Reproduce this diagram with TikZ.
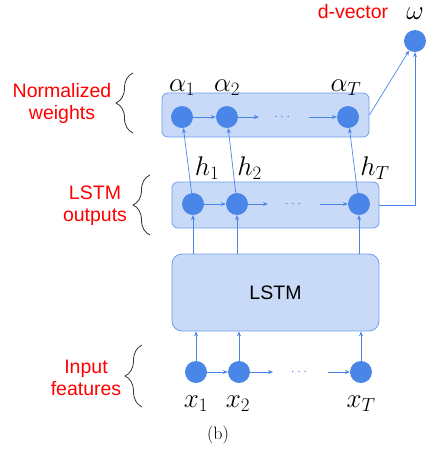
\documentclass[tikz,border=0pt]{standalone}
\usepackage{fix-cm}
\usepackage{fontspec}
\newfontfamily\arialfont{Liberation Sans}
\usetikzlibrary{arrows.meta,decorations.pathreplacing}
\definecolor{boxfill}{HTML}{C9DAF8}
\definecolor{boxline}{HTML}{6D9EEB}
\definecolor{dotblue}{HTML}{4A86E8}
\definecolor{arrblue}{HTML}{4A86E8}
\begin{document}
\begin{tikzpicture}[x=1pt,y=-1pt,
  box/.style={draw=boxline, fill=boxfill, rounded corners=6pt, line width=0.8pt, inner sep=0pt},
  dot/.style={circle, fill=dotblue, minimum size=22pt, inner sep=0pt},
  arr/.style={draw=arrblue, line width=0.7pt, -{Stealth[length=5pt,width=4pt]}},
  lbl/.style={text=red, font=\arialfont\fontsize{19.5}{22}\selectfont, align=center, inner sep=0pt},
  mlbl/.style={font=\fontsize{27}{30}\selectfont, anchor=base, inner sep=0pt},
  ell/.style={text=dotblue, font=\fontsize{14}{16}\selectfont, inner sep=0pt},
  brc/.style={draw=black!80, decorate, decoration={brace, amplitude=17pt}, line width=0.8pt}]
\useasboundingbox (0,0) rectangle (433,451);

% boxes
\node[box, minimum width=207pt, minimum height=44pt] (abox) at (265.5,115) {};
\node[box, minimum width=207pt, minimum height=46pt] (hbox) at (275.5,205) {};
\node[box, rounded corners=10pt, minimum width=207pt, minimum height=77pt,
      font=\arialfont\fontsize{19.5}{22}\selectfont] (lstm) at (275.5,292.5) {LSTM};

% circles
\node[dot] (a1) at (182,117) {};
\node[dot] (a2) at (227,117) {};
\node[dot] (aT) at (348,117) {};
\node[dot] (h1) at (193,204) {};
\node[dot] (h2) at (237,204) {};
\node[dot] (hT) at (359,204) {};
\node[dot] (x1) at (196,372) {};
\node[dot] (x2) at (239,372) {};
\node[dot] (xT) at (361,372) {};
\node[dot] (w) at (415,41) {};

% ellipses
\node[ell] (ad) at (282,117) {$\cdots$};
\node[ell] (hd) at (293,204) {$\cdots$};
\node[ell] (xd) at (299,372) {$\cdots$};
\coordinate (ae) at (259,117);
\coordinate (as) at (309,117);
\coordinate (he) at (268,204);
\coordinate (hs) at (320,204);
\coordinate (xe) at (273,372);
\coordinate (xs) at (328,372);

% horizontal arrows
\draw[arr] (a1) -- (a2);
\draw[arr] (a2) -- (ae);
\draw[arr] (as) -- (aT);
\draw[arr] (h1) -- (h2);
\draw[arr] (h2) -- (he);
\draw[arr] (hs) -- (hT);
\draw[arr] (x1) -- (x2);
\draw[arr] (x2) -- (xe);
\draw[arr] (xs) -- (xT);

% vertical arrows
\draw[arr] (x1) -- (lstm.south -| x1);
\draw[arr] (x2) -- (lstm.south -| x2);
\draw[arr] (xT) -- (lstm.south -| xT);
\draw[arr] (lstm.north -| h1) -- (h1);
\draw[arr] (lstm.north -| h2) -- (h2);
\draw[arr] (lstm.north -| hT) -- (hT);
\draw[arr] (h1) -- (a1);
\draw[arr] (h2) -- (a2);
\draw[arr] (hT) -- (aT);

% to omega
\draw[arr] (abox.east) -- (w);
\draw[arr] (hbox.east) -| (w);

% math labels
\node[mlbl] (la1) at (182,91) {$\alpha_1$};
\node[mlbl] (la2) at (227,91) {$\alpha_2$};
\node[mlbl] (laT) at (346,91) {$\alpha_T$};
\node[mlbl] (lh1) at (207,175) {$h_1$};
\node[mlbl] (lh2) at (249.5,175) {$h_2$};
\node[mlbl] (lhT) at (375,175) {$h_T$};
\node[mlbl] (lx1) at (196,407) {$x_1$};
\node[mlbl] (lx2) at (238,407) {$x_2$};
\node[mlbl] (lxT) at (361,407) {$x_T$};
\node[mlbl] (lw) at (415,19) {$\omega$};

% red labels
\node[lbl] (dvec) at (353,12) {d-vector};
\node[lbl] (nw) at (62,103) {Normalized\\weights};
\node[lbl] (lo) at (95,206) {LSTM\\outputs};
\node[lbl] (inf) at (86,378) {Input\\features};

% braces
\draw[brc] (133,133) -- (133,73);
\draw[brc] (150,235) -- (150,175);
\draw[brc] (142,407) -- (142,345);

% caption
\node[font=\fontsize{18}{20}\selectfont, inner sep=0pt] (cap) at (218,435) {(b)};
\end{tikzpicture}
\end{document}
